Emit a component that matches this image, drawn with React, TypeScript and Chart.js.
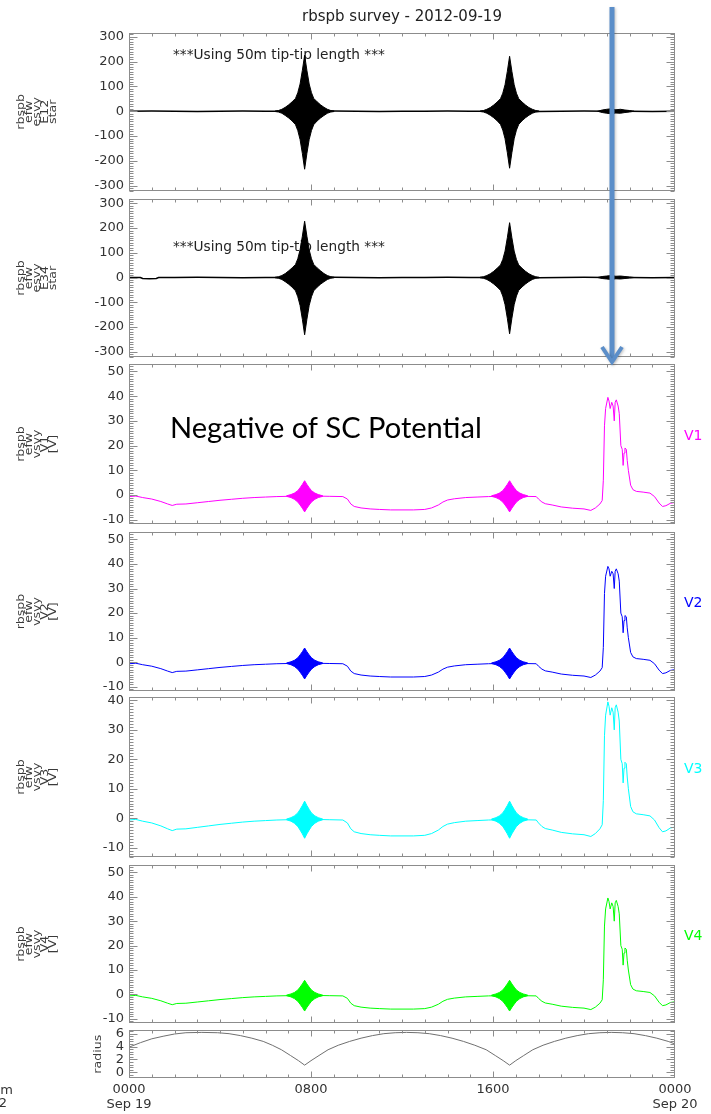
import React, { useEffect, useRef } from 'react';
import { Chart, registerables } from 'chart.js';

Chart.register(...registerables);

const PAGE_W = 711;
const PAGE_H = 1114;
const PLOT_LEFT = 129;
const PLOT_RIGHT = 675;
const PAD = 12;

const TITLE = 'rbspb survey - 2012-09-19';
const TIP_NOTE = '***Using 50m tip-tip length ***';
const SC_NOTE = 'Negative of SC Potential';

const X_MAJOR_HOURS = [0, 8, 16, 24];
const X_HOUR_LABELS = ['0000', '0800', '1600', '0000'];
const X_DATE_LABELS = ['Sep 19', '', '', 'Sep 20'];

// ---------- E-field (esvy) baselines ----------
const E_BASE_TIMES = [0, 1, 2, 3, 4, 5, 6, 7, 8, 9, 10, 11, 12, 13, 14, 15, 16, 17, 18, 19, 20, 21, 22, 23, 24];
const E12_BASE = [0, 1, 0, -1, 0, 1, 0, 0, 0, 1, 0, -1, 0, 0, 1, 0, 0, 0, -1, 0, 1, 0, 0, -1, 0];
const E34_BASE_TIMES = [0, 0.5, 0.6, 0.9, 1.2, 1.3, 2, 3, 4, 5, 6, 7, 8, 9, 10, 11, 12, 13, 14, 15, 16, 17, 18, 19, 20, 21, 22, 23, 24];
const E34_BASE = [0, 0, -4, -5, -4, 0, 0, 1, 0, -1, 0, 0, 0, 1, 0, -1, 0, 0, 1, 0, 0, 0, -1, 0, 1, 0, 0, -1, 0];

// ---------- E-field bursts (envelopes) ----------
const E_BURST1_TIMES = [6.42, 6.57, 6.72, 6.87, 7.02, 7.17, 7.32, 7.42, 7.52, 7.62, 7.72, 7.82, 7.92, 8.02, 8.12, 8.27, 8.42, 8.57, 8.72, 8.87, 9.02];
const E_BURST2_TIMES = [15.43, 15.58, 15.73, 15.88, 16.03, 16.18, 16.33, 16.43, 16.53, 16.63, 16.73, 16.83, 16.93, 17.03, 17.13, 17.28, 17.43, 17.58, 17.73, 17.88, 18.03];
const E12_B1_UP = [1, 3, 8, 16, 26, 38, 52, 75, 110, 165, 226, 165, 110, 75, 52, 38, 26, 16, 8, 3, 1];
const E12_B1_LO = [-1, -3, -8, -17, -27, -39, -54, -78, -114, -170, -234, -170, -114, -78, -54, -39, -27, -17, -8, -3, -1];
const E12_B2_UP = [1, 3, 8, 15, 25, 37, 51, 73, 107, 161, 222, 161, 107, 73, 51, 37, 25, 15, 8, 3, 1];
const E12_B2_LO = [-1, -3, -8, -16, -26, -38, -53, -76, -111, -167, -230, -167, -111, -76, -53, -38, -26, -16, -8, -3, -1];
const E34_B1_UP = [1, 3, 8, 16, 27, 39, 53, 76, 112, 167, 228, 167, 112, 76, 53, 39, 27, 16, 8, 3, 1];
const E34_B1_LO = [-1, -3, -8, -17, -27, -39, -54, -78, -113, -169, -232, -169, -113, -78, -54, -39, -27, -17, -8, -3, -1];
const E34_B2_UP = [1, 3, 8, 15, 25, 37, 51, 73, 107, 161, 222, 161, 107, 73, 51, 37, 25, 15, 8, 3, 1];
const E34_B2_LO = [-1, -3, -8, -16, -26, -38, -52, -75, -110, -165, -228, -165, -110, -75, -52, -38, -26, -16, -8, -3, -1];
const E_NOISE_TIMES = [20.6, 20.8, 21.0, 21.2, 21.4, 21.6, 21.8, 22.0, 22.2];
const E12_NOISE_UP = [0, 5, 8, 10, 6, 8, 5, 3, 0];
const E12_NOISE_LO = [0, -5, -8, -10, -7, -8, -5, -3, 0];
const E34_NOISE_UP = [0, 4, 6, 8, 5, 6, 4, 2, 0];
const E34_NOISE_LO = [0, -4, -6, -8, -5, -6, -4, -2, 0];

// ---------- Probe potentials (vsvy) ----------
const V_TIMES = [
  0, 0.3, 0.6, 1.0, 1.4, 1.7, 1.9, 2.1, 2.5, 3.0,
  3.5, 4.0, 4.5, 5.0, 5.5, 6.0, 6.5, 7.0, 7.6, 8.2,
  8.8, 9.4, 9.6, 9.75, 9.9, 10.2, 10.6, 11.0, 11.5, 12.0,
  12.5, 13.0, 13.3, 13.6, 13.8, 14.0, 14.3, 14.8, 15.3, 15.8,
  16.3, 16.6, 17.3, 17.9, 18.0, 18.15, 18.3, 18.6, 19.0, 19.5,
  20.0, 20.3, 20.5, 20.7, 20.8, 20.85, 20.9, 20.95, 21.05, 21.1,
  21.15, 21.22, 21.28, 21.33, 21.37, 21.42, 21.5, 21.55, 21.62, 21.68,
  21.72, 21.76, 21.8, 21.86, 21.9, 21.95, 22.05, 22.15, 22.3, 22.6,
  22.9, 23.1, 23.3, 23.45, 23.6, 23.8, 24,
];
const V1_VALUES = [
  -0.6, -0.4, -1.0, -1.6, -2.6, -3.6, -4.2, -3.7, -3.6, -3.1,
  -2.6, -2.1, -1.7, -1.3, -1.0, -0.8, -0.6, -0.5, -0.4, -0.4,
  -0.5, -0.6, -1.6, -3.6, -4.6, -5.2, -5.6, -5.8, -6.0, -6.0,
  -6.0, -5.8, -5.2, -4.0, -2.8, -2.0, -1.5, -1.0, -0.8, -0.6,
  -0.5, -0.5, -0.5, -0.6, -1.6, -2.8, -3.5, -4.0, -4.8, -5.3,
  -5.6, -6.2, -5.2, -3.6, -2.2, 6, 28, 35, 39.5, 38,
  35, 37.5, 36, 30, 37.5, 38.5, 36, 33, 20, 18.5,
  12, 17, 19, 18.5, 14, 10, 4, 2.2, 1.5, 1.2,
  0.8, -0.6, -3.2, -4.6, -4.3, -3.3, -3.0,
];
const V2_VALUES = [
  -0.6, -0.4, -1.0, -1.6, -2.6, -3.6, -4.2, -3.7, -3.6, -3.1,
  -2.6, -2.1, -1.7, -1.3, -1.0, -0.8, -0.6, -0.5, -0.4, -0.4,
  -0.5, -0.6, -1.6, -3.6, -4.6, -5.2, -5.6, -5.8, -6.0, -6.0,
  -6.0, -5.8, -5.2, -4.0, -2.8, -2.0, -1.5, -1.0, -0.8, -0.6,
  -0.5, -0.5, -0.5, -0.6, -1.6, -2.8, -3.5, -4.0, -4.8, -5.3,
  -5.6, -6.2, -5.2, -3.6, -2.2, 6, 28, 35, 39, 38,
  35, 37, 36, 30, 37, 38, 36, 33, 20, 18.5,
  12, 17, 19, 18.5, 14, 10, 4, 2.2, 1.5, 1.2,
  0.8, -0.6, -3.2, -4.6, -4.3, -3.3, -3.0,
];
const V3_VALUES = [
  -0.6, -0.4, -1.0, -1.6, -2.6, -3.6, -4.2, -3.7, -3.6, -3.1,
  -2.6, -2.1, -1.7, -1.3, -1.0, -0.8, -0.6, -0.5, -0.4, -0.4,
  -0.5, -0.6, -1.6, -3.6, -4.6, -5.2, -5.6, -5.8, -6.0, -6.0,
  -6.0, -5.8, -5.2, -4.0, -2.8, -2.0, -1.5, -1.0, -0.8, -0.6,
  -0.5, -0.5, -0.5, -0.6, -1.6, -2.8, -3.5, -4.0, -4.8, -5.3,
  -5.6, -6.2, -5.2, -3.6, -2.2, 6, 28, 35, 39.5, 38,
  35, 37.5, 36, 30, 37.5, 38.5, 36, 33, 20, 18.5,
  12, 17, 19, 18.5, 14, 10, 4, 2.2, 1.5, 1.2,
  0.8, -0.6, -3.2, -4.6, -4.3, -3.3, -3.0,
];
const V4_VALUES = [
  -0.6, -0.4, -1.0, -1.6, -2.6, -3.6, -4.2, -3.7, -3.6, -3.1,
  -2.6, -2.1, -1.7, -1.3, -1.0, -0.8, -0.6, -0.5, -0.4, -0.4,
  -0.5, -0.6, -1.6, -3.6, -4.6, -5.2, -5.6, -5.8, -6.0, -6.0,
  -6.0, -5.8, -5.2, -4.0, -2.8, -2.0, -1.5, -1.0, -0.8, -0.6,
  -0.5, -0.5, -0.5, -0.6, -1.6, -2.8, -3.5, -4.0, -4.8, -5.3,
  -5.6, -6.2, -5.2, -3.6, -2.2, 6, 28, 35, 39.5, 38,
  35, 37.5, 36, 30, 37.5, 38.5, 36, 33, 20, 18.5,
  12, 17, 19, 18.5, 14, 10, 4, 2.2, 1.5, 1.2,
  0.8, -0.6, -3.2, -4.6, -4.3, -3.3, -3.0,
];
const V_BURST1_TIMES = [6.92, 7.12, 7.27, 7.42, 7.52, 7.62, 7.72, 7.82, 7.92, 8.02, 8.17, 8.32, 8.52];
const V_BURST2_TIMES = [15.93, 16.13, 16.28, 16.43, 16.53, 16.63, 16.73, 16.83, 16.93, 17.03, 17.18, 17.33, 17.53];
const V_BURST_UP = [-0.3, 0.2, 0.8, 1.8, 3.0, 4.3, 5.8, 4.3, 3.0, 1.8, 0.8, 0.2, -0.3];
const V_BURST_LO = [-0.5, -1.0, -1.7, -2.8, -4.0, -5.3, -6.8, -5.3, -4.0, -2.8, -1.7, -1.0, -0.5];

// ---------- Radius ----------
const R_TIMES = [
  0, 0.5, 1.0, 1.5, 2.0, 2.5, 3.2, 3.9, 4.4, 4.9,
  5.4, 5.9, 6.3, 6.7, 7.1, 7.45, 7.72, 8.0, 8.35, 8.75,
  9.2, 9.7, 10.2, 10.7, 11.2, 11.7, 12.2, 12.7, 13.2, 13.7,
  14.2, 14.7, 15.2, 15.7, 16.1, 16.45, 16.73, 17.0, 17.35, 17.75,
  18.2, 18.7, 19.2, 19.7, 20.2, 20.7, 21.2, 21.7, 22.2, 22.7,
  23.2, 23.7, 24,
];
const R_VALUES = [
  3.9, 4.6, 5.2, 5.6, 5.95, 6.15, 6.2, 6.15, 6.0, 5.7,
  5.3, 4.8, 4.2, 3.5, 2.6, 1.8, 1.1, 1.8, 2.6, 3.5,
  4.2, 4.8, 5.3, 5.7, 6.0, 6.15, 6.2, 6.15, 6.0, 5.7,
  5.3, 4.8, 4.2, 3.5, 2.6, 1.8, 1.1, 1.8, 2.6, 3.5,
  4.2, 4.8, 5.3, 5.7, 6.0, 6.15, 6.2, 6.15, 6.0, 5.7,
  5.3, 4.8, 4.4,
];

// ---------- helpers ----------
const pts = (t: number[], v: number[]) => t.map((x, i) => ({ x, y: v[i] }));
const line = (t: number[], v: number[], color: string, width = 1) => ({
  data: pts(t, v),
  borderColor: color,
  backgroundColor: color,
  borderWidth: width,
  pointRadius: 0,
  fill: false,
  tension: 0,
});
const envelope = (t: number[], up: number[], lo: number[], color: string) => [
  { ...line(t, up, color), fill: '+1' },
  line(t, lo, color),
];

const TICK_FONT = { family: 'DejaVu Sans', size: 13, lineHeight: 1.15 };
const LABEL_COLOR = '#333333';

type Note = { text: string; x: number; y: number; color: string; family: string; fitWidth: number; over?: boolean };
type PanelDef = {
  top: number;
  bottom: number;
  yMin: number;
  yMax: number;
  yStep: number;
  yMinor: number;
  leftLabel: string[];
  leftX: number;
  rightLabel?: string;
  rightColor?: string;
  datasets: any[];
  title?: boolean;
  xAxis?: boolean;
  notes?: Note[];
};

const vPanel = (top: number, bottom: number, values: number[], color: string, name: string, yMin: number, yMax: number): PanelDef => ({
  top, bottom, yMin, yMax, yStep: 10, yMinor: 1,
  leftLabel: ['rbspb', 'efw', 'vsvy', name, '[V]'], leftX: 37,
  rightLabel: name, rightColor: color,
  datasets: [
    line(V_TIMES, values, color),
    ...envelope(V_BURST1_TIMES, V_BURST_UP, V_BURST_LO, color),
    ...envelope(V_BURST2_TIMES, V_BURST_UP, V_BURST_LO, color),
  ],
});

const PANELS: PanelDef[] = [
  {
    top: 33, bottom: 191, yMin: -320, yMax: 316, yStep: 100, yMinor: 10,
    leftLabel: ['rbspb', 'efw', 'esvy', 'E12', 'star'], leftX: 37, title: true,
    datasets: [
      line(E_BASE_TIMES, E12_BASE, '#000000', 1.5),
      ...envelope(E_BURST1_TIMES, E12_B1_UP, E12_B1_LO, '#000000'),
      ...envelope(E_BURST2_TIMES, E12_B2_UP, E12_B2_LO, '#000000'),
      ...envelope(E_NOISE_TIMES, E12_NOISE_UP, E12_NOISE_LO, '#000000'),
    ],
    notes: [{ text: TIP_NOTE, x: 173, y: 55, family: '"DejaVu Sans"', color: '#222', fitWidth: 212 }],
  },
  {
    top: 199, bottom: 357, yMin: -320, yMax: 316, yStep: 100, yMinor: 10,
    leftLabel: ['rbspb', 'efw', 'esvy', 'E34', 'star'], leftX: 37,
    datasets: [
      line(E34_BASE_TIMES, E34_BASE, '#000000', 1.5),
      ...envelope(E_BURST1_TIMES, E34_B1_UP, E34_B1_LO, '#000000'),
      ...envelope(E_BURST2_TIMES, E34_B2_UP, E34_B2_LO, '#000000'),
      ...envelope(E_NOISE_TIMES, E34_NOISE_UP, E34_NOISE_LO, '#000000'),
    ],
    notes: [{ text: TIP_NOTE, x: 173, y: 247, family: '"DejaVu Sans"', color: '#222', fitWidth: 212 }],
  },
  {
    ...vPanel(364, 524, V1_VALUES, '#ff00ff', 'V1', -11.5, 52.8),
    notes: [{ text: SC_NOTE, x: 170, y: 438, family: 'Lato', color: '#000', over: true, fitWidth: 312 }],
  },
  vPanel(532, 691, V2_VALUES, '#0000ff', 'V2', -11.5, 52.8),
  vPanel(697, 857, V3_VALUES, '#00ffff', 'V3', -13, 41),
  vPanel(865, 1023, V4_VALUES, '#00ff00', 'V4', -11.5, 52.8),
  {
    top: 1030, bottom: 1078, yMin: -0.9, yMax: 6.5, yStep: 2, yMinor: 0.4,
    leftLabel: ['radius'], leftX: 98, xAxis: true,
    datasets: [line(R_TIMES, R_VALUES, '#707070', 1)],
  },
];

function drawNote(ctx: CanvasRenderingContext2D, n: Note, canvasTop: number) {
  ctx.save();
  ctx.font = `100px ${n.family}`;
  const w = ctx.measureText(n.text).width;
  ctx.font = `${(100 * n.fitWidth) / w}px ${n.family}`;
  ctx.fillStyle = n.color;
  ctx.textAlign = 'left';
  ctx.textBaseline = n.over ? 'alphabetic' : 'middle';
  ctx.fillText(n.text, n.x, n.y - canvasTop);
  ctx.restore();
}

function makeDecor(p: PanelDef, canvasTop: number) {
  return {
    id: 'decor',
    beforeDatasetsDraw(chart: any) {
      (p.notes || []).filter((n) => !n.over).forEach((n) => drawNote(chart.ctx, n, canvasTop));
    },
    afterDatasetsDraw(chart: any) {
      const ctx: CanvasRenderingContext2D = chart.ctx;
      const a = chart.chartArea;
      const ys = chart.scales.y;
      const xs = chart.scales.x;
      ctx.save();
      ctx.strokeStyle = '#8c8c8c';
      ctx.lineWidth = 1;
      const L = Math.round(a.left) + 0.5;
      const R = Math.round(a.right) - 0.5;
      const T = Math.round(a.top) + 0.5;
      const B = Math.round(a.bottom) - 0.5;
      ctx.strokeRect(L, T, R - L, B - T);
      ctx.beginPath();
      const start = Math.ceil(p.yMin / p.yMinor - 1e-9);
      const end = Math.floor(p.yMax / p.yMinor + 1e-9);
      for (let k = start; k <= end; k++) {
        const v = k * p.yMinor;
        const r = v / p.yStep;
        const major = Math.abs(r - Math.round(r)) < 1e-6;
        const len = major ? 8 : 4;
        const y = Math.round(ys.getPixelForValue(v)) + 0.5;
        ctx.moveTo(L, y);
        ctx.lineTo(L + len, y);
        ctx.moveTo(R, y);
        ctx.lineTo(R - len, y);
      }
      for (let h = 1; h < 24; h++) {
        const len = h % 8 === 0 ? 6 : 3;
        const x = Math.round(xs.getPixelForValue(h)) + 0.5;
        ctx.moveTo(x, T);
        ctx.lineTo(x, T + len);
        ctx.moveTo(x, B);
        ctx.lineTo(x, B - len);
      }
      ctx.stroke();

      // left rotated labels (stretched along the text direction, IDL-like)
      const cy = (a.top + a.bottom) / 2;
      ctx.translate(p.leftX, cy);
      ctx.rotate(-Math.PI / 2);
      ctx.scale(1.2, 1);
      ctx.font = '10.5px "DejaVu Sans"';
      ctx.fillStyle = '#3a3a3a';
      ctx.textAlign = 'center';
      ctx.textBaseline = 'middle';
      const n = p.leftLabel.length;
      p.leftLabel.forEach((s, i) => ctx.fillText(s, 0, (i - (n - 1) / 2) * 8));
      ctx.restore();

      if (p.rightLabel) {
        ctx.save();
        ctx.font = '14px "DejaVu Sans"';
        ctx.fillStyle = p.rightColor || '#000';
        ctx.textAlign = 'left';
        ctx.textBaseline = 'middle';
        ctx.fillText(p.rightLabel, 684, cy - 8);
        ctx.restore();
      }
      (p.notes || []).filter((nn) => nn.over).forEach((nn) => drawNote(ctx, nn, canvasTop));

      if (p.xAxis) {
        ctx.save();
        ctx.font = '13px "DejaVu Sans"';
        ctx.fillStyle = LABEL_COLOR;
        ctx.textAlign = 'right';
        ctx.textBaseline = 'middle';
        ctx.fillText('m', 13, 1091 - canvasTop);
        ctx.fillText('2', 7, 1104 - canvasTop);
        ctx.restore();
      }
    },
  };
}

function Panel({ def }: { def: PanelDef }) {
  const ref = useRef<HTMLCanvasElement>(null);
  const canvasTop = def.title ? 0 : def.top - PAD;
  const height = def.xAxis ? PAGE_H - canvasTop : def.bottom + PAD - canvasTop;

  useEffect(() => {
    const canvas = ref.current;
    if (!canvas) return;
    const xScale: any = {
      type: 'linear',
      min: 0,
      max: 24,
      display: !!def.xAxis,
      grid: { display: false, drawTicks: false },
      border: { display: false },
      afterBuildTicks: (scale: any) => {
        scale.ticks = X_MAJOR_HOURS.map((v) => ({ value: v }));
      },
      ticks: {
        autoSkip: false,
        maxRotation: 0,
        padding: 4,
        color: LABEL_COLOR,
        font: TICK_FONT,
        callback: (_v: any, i: number) =>
          X_DATE_LABELS[i] ? [X_HOUR_LABELS[i], X_DATE_LABELS[i]] : X_HOUR_LABELS[i],
      },
    };
    if (def.xAxis) {
      xScale.afterFit = (scale: any) => {
        scale.height = PAGE_H - def.bottom;
      };
    }
    const chart = new Chart(canvas, {
      type: 'line',
      data: { datasets: def.datasets },
      options: {
        animation: false,
        responsive: false,
        maintainAspectRatio: false,
        devicePixelRatio: 1,
        layout: {
          padding: { top: def.title ? 0 : PAD, bottom: def.xAxis ? 0 : PAD, left: 0, right: PAGE_W - PLOT_RIGHT },
        },
        plugins: {
          legend: { display: false },
          tooltip: { enabled: false },
          title: {
            display: !!def.title,
            text: TITLE,
            fullSize: false,
            align: 'center',
            color: '#222',
            font: { family: 'DejaVu Sans', size: 15, weight: 'normal', lineHeight: 1.2 },
            padding: { top: 8, bottom: 7 },
          },
        },
        scales: {
          x: xScale,
          y: {
            type: 'linear',
            min: def.yMin,
            max: def.yMax,
            grid: { display: false, drawTicks: false },
            border: { display: false },
            afterFit: (scale: any) => {
              scale.width = PLOT_LEFT;
            },
            ticks: {
              stepSize: def.yStep,
              includeBounds: false,
              autoSkip: false,
              padding: 5,
              color: LABEL_COLOR,
              font: TICK_FONT,
            },
          },
        },
      } as any,
      plugins: [makeDecor(def, canvasTop)],
    });
    return () => chart.destroy();
  }, []);

  return (
    <canvas
      ref={ref}
      width={PAGE_W}
      height={height}
      style={{ position: 'absolute', left: 0, top: canvasTop, width: PAGE_W, height }}
    />
  );
}

function ArrowOverlay() {
  const ref = useRef<HTMLCanvasElement>(null);
  useEffect(() => {
    const c = ref.current;
    if (!c) return;
    const ctx = c.getContext('2d');
    if (!ctx) return;
    ctx.clearRect(0, 0, PAGE_W, PAGE_H);
    ctx.save();
    ctx.shadowColor = 'rgba(0,0,0,0.25)';
    ctx.shadowBlur = 3;
    ctx.shadowOffsetX = 1;
    ctx.shadowOffsetY = 1;
    ctx.strokeStyle = '#5b8ec9';
    ctx.lineWidth = 5;
    ctx.lineCap = 'butt';
    ctx.beginPath();
    ctx.moveTo(612, 7);
    ctx.lineTo(612, 360);
    ctx.stroke();
    ctx.lineWidth = 4;
    ctx.lineJoin = 'miter';
    ctx.beginPath();
    ctx.moveTo(602, 347);
    ctx.lineTo(612, 362);
    ctx.lineTo(622, 347);
    ctx.stroke();
    ctx.restore();
  }, []);
  return (
    <canvas
      ref={ref}
      width={PAGE_W}
      height={PAGE_H}
      style={{ position: 'absolute', left: 0, top: 0, width: PAGE_W, height: PAGE_H, pointerEvents: 'none' }}
    />
  );
}

export default function App() {
  return (
    <div style={{ position: 'absolute', left: 0, top: 0, width: PAGE_W, height: PAGE_H, background: '#ffffff', overflow: 'hidden' }}>
      {PANELS.map((p, i) => (
        <Panel key={i} def={p} />
      ))}
      <ArrowOverlay />
    </div>
  );
}
